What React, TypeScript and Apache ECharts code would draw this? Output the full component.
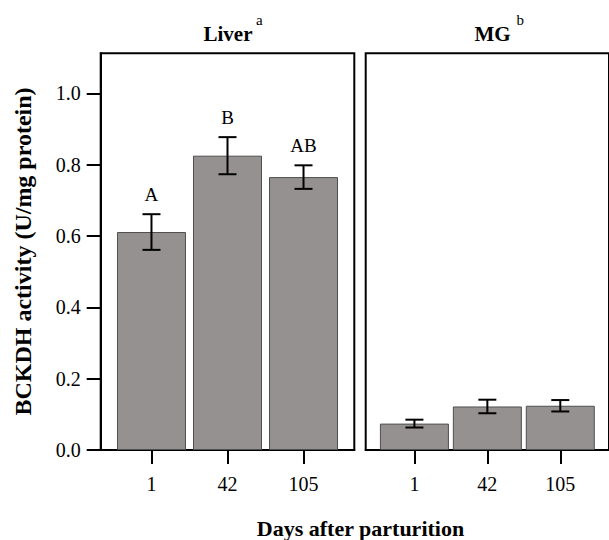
import React, { useEffect, useRef } from "react";
import * as echarts from "echarts";

const dayLabels = ["1", "42", "105"];
const dayPositions = [1, 2, 3];
const liverMeans = [0.611, 0.825, 0.765];
const liverSE = [0.05, 0.052, 0.033];
const liverLetters = ["A", "B", "AB"];
const mgMeans = [0.074, 0.122, 0.124];
const mgSE = [0.011, 0.019, 0.016];
const mgLetters = ["", "", ""];
const yTicks = [0, 0.2, 0.4, 0.6, 0.8, 1.0];

const FONT = "Liberation Serif";
const BAR_FILL = "#959191";
const BAR_BORDER = "#4f4f4f";

const X_MIN = 0.332;
const X_MAX = 3.668;
const Y_MIN = 0;
const Y_MAX = 1.112;

function errRender(params: any, api: any) {
  const x = api.value(0);
  const lo = api.value(1);
  const hi = api.value(2);
  const letter = api.value(3) as any;
  const pLo = api.coord([x, lo]);
  const pHi = api.coord([x, hi]);
  const half = 9;
  const st = { stroke: "#000", lineWidth: 2 };
  const children: any[] = [
    { type: "line", shape: { x1: pLo[0], y1: pLo[1], x2: pHi[0], y2: pHi[1] }, style: st },
    { type: "line", shape: { x1: pLo[0] - half, y1: pLo[1], x2: pLo[0] + half, y2: pLo[1] }, style: st },
    { type: "line", shape: { x1: pHi[0] - half, y1: pHi[1], x2: pHi[0] + half, y2: pHi[1] }, style: st },
  ];
  if (letter && letter !== "-") {
    children.push({
      type: "text",
      x: pHi[0],
      y: pHi[1] - 10,
      style: {
        text: String(letter),
        fill: "#000",
        fontSize: 19,
        fontFamily: FONT,
        align: "center",
        verticalAlign: "bottom",
      },
    });
  }
  return { type: "group", children };
}

export default function App() {
  const ref = useRef<HTMLDivElement>(null);
  useEffect(() => {
    if (!ref.current) return;
    const chart = echarts.init(ref.current, undefined, { renderer: "svg" });

    const liverBars = dayPositions.map((p, i) => [p, liverMeans[i]]);
    const mgBars = dayPositions.map((p, i) => [p, mgMeans[i]]);
    const liverErr = dayPositions.map((p, i) => [
      p,
      liverMeans[i] - liverSE[i],
      liverMeans[i] + liverSE[i],
      liverLetters[i] || "-",
    ]);
    const mgErr = dayPositions.map((p, i) => [
      p,
      mgMeans[i] - mgSE[i],
      mgMeans[i] + mgSE[i],
      mgLetters[i] || "-",
    ]);

    const xAxisBase = (gridIndex: number) => ({
      type: "value",
      gridIndex,
      min: X_MIN,
      max: X_MAX,
      splitLine: { show: false },
      axisLine: { show: true, onZero: false, lineStyle: { color: "#000", width: 2 } },
      axisTick: {
        show: true,
        customValues: dayPositions,
        length: 14,
        lineStyle: { color: "#000", width: 2 },
      },
      axisLabel: {
        show: true,
        customValues: dayPositions,
        margin: 24,
        fontSize: 20,
        fontFamily: FONT,
        color: "#000",
        formatter: (v: number) => dayLabels[Math.round(v) - 1] ?? "",
      },
    });

    chart.setOption({
      animation: false,
      backgroundColor: "#fff",
      textStyle: { fontFamily: FONT },
      grid: [
        {
          left: 100.7,
          top: 53.3,
          width: 253.6,
          height: 396.7,
          show: true,
          borderColor: "#000",
          borderWidth: 2,
          backgroundColor: "transparent",
        },
        {
          left: 365.7,
          top: 53.3,
          width: 254.3,
          height: 396.7,
          show: true,
          borderColor: "#000",
          borderWidth: 2,
          backgroundColor: "transparent",
        },
      ],
      xAxis: [xAxisBase(0), xAxisBase(1)],
      yAxis: [
        {
          type: "value",
          gridIndex: 0,
          min: Y_MIN,
          max: Y_MAX,
          splitLine: { show: false },
          axisLine: { show: true, lineStyle: { color: "#000", width: 2 } },
          axisTick: {
            show: true,
            customValues: yTicks,
            length: 14,
            lineStyle: { color: "#000", width: 2 },
          },
          axisLabel: {
            show: true,
            customValues: yTicks,
            margin: 20,
            fontSize: 20,
            fontFamily: FONT,
            color: "#000",
            formatter: (v: number) => v.toFixed(1),
          },
        },
        {
          type: "value",
          gridIndex: 1,
          min: Y_MIN,
          max: Y_MAX,
          show: false,
          splitLine: { show: false },
        },
      ],
      series: [
        {
          type: "bar",
          xAxisIndex: 0,
          yAxisIndex: 0,
          data: liverBars,
          barWidth: 69,
          itemStyle: { color: BAR_FILL, borderColor: BAR_BORDER, borderWidth: 1 },
        },
        {
          type: "bar",
          xAxisIndex: 1,
          yAxisIndex: 1,
          data: mgBars,
          barWidth: 69,
          itemStyle: { color: BAR_FILL, borderColor: BAR_BORDER, borderWidth: 1 },
        },
        {
          type: "custom",
          xAxisIndex: 0,
          yAxisIndex: 0,
          data: liverErr,
          clip: false,
          renderItem: errRender,
          z: 5,
        },
        {
          type: "custom",
          xAxisIndex: 1,
          yAxisIndex: 1,
          data: mgErr,
          clip: false,
          renderItem: errRender,
          z: 5,
        },
      ],
      graphic: [
        {
          type: "text",
          x: 228,
          y: 34,
          style: {
            text: "Liver",
            fontSize: 21,
            fontWeight: "bold",
            fontFamily: FONT,
            fill: "#000",
            align: "center",
            verticalAlign: "middle",
          },
        },
        {
          type: "text",
          x: 256,
          y: 20,
          style: {
            text: "a",
            fontSize: 15,
            fontFamily: FONT,
            fill: "#000",
            align: "left",
            verticalAlign: "middle",
          },
        },
        {
          type: "text",
          x: 492.5,
          y: 34,
          style: {
            text: "MG",
            fontSize: 21,
            fontWeight: "bold",
            fontFamily: FONT,
            fill: "#000",
            align: "center",
            verticalAlign: "middle",
          },
        },
        {
          type: "text",
          x: 516.5,
          y: 20,
          style: {
            text: "b",
            fontSize: 15,
            fontFamily: FONT,
            fill: "#000",
            align: "left",
            verticalAlign: "middle",
          },
        },
        {
          type: "text",
          x: 23,
          y: 251.5,
          rotation: Math.PI / 2,
          style: {
            text: "BCKDH activity (U/mg protein)",
            fontSize: 24,
            fontWeight: "bold",
            fontFamily: FONT,
            fill: "#000",
            align: "center",
            verticalAlign: "middle",
          },
        },
        {
          type: "text",
          x: 360.5,
          y: 528.5,
          style: {
            text: "Days after parturition",
            fontSize: 22,
            fontWeight: "bold",
            fontFamily: FONT,
            fill: "#000",
            align: "center",
            verticalAlign: "middle",
          },
        },
      ],
    });
    return () => chart.dispose();
  }, []);
  return (
    <div
      ref={ref}
      style={{ position: "fixed", left: 0, top: 0, width: 609, height: 540 }}
    />
  );
}
